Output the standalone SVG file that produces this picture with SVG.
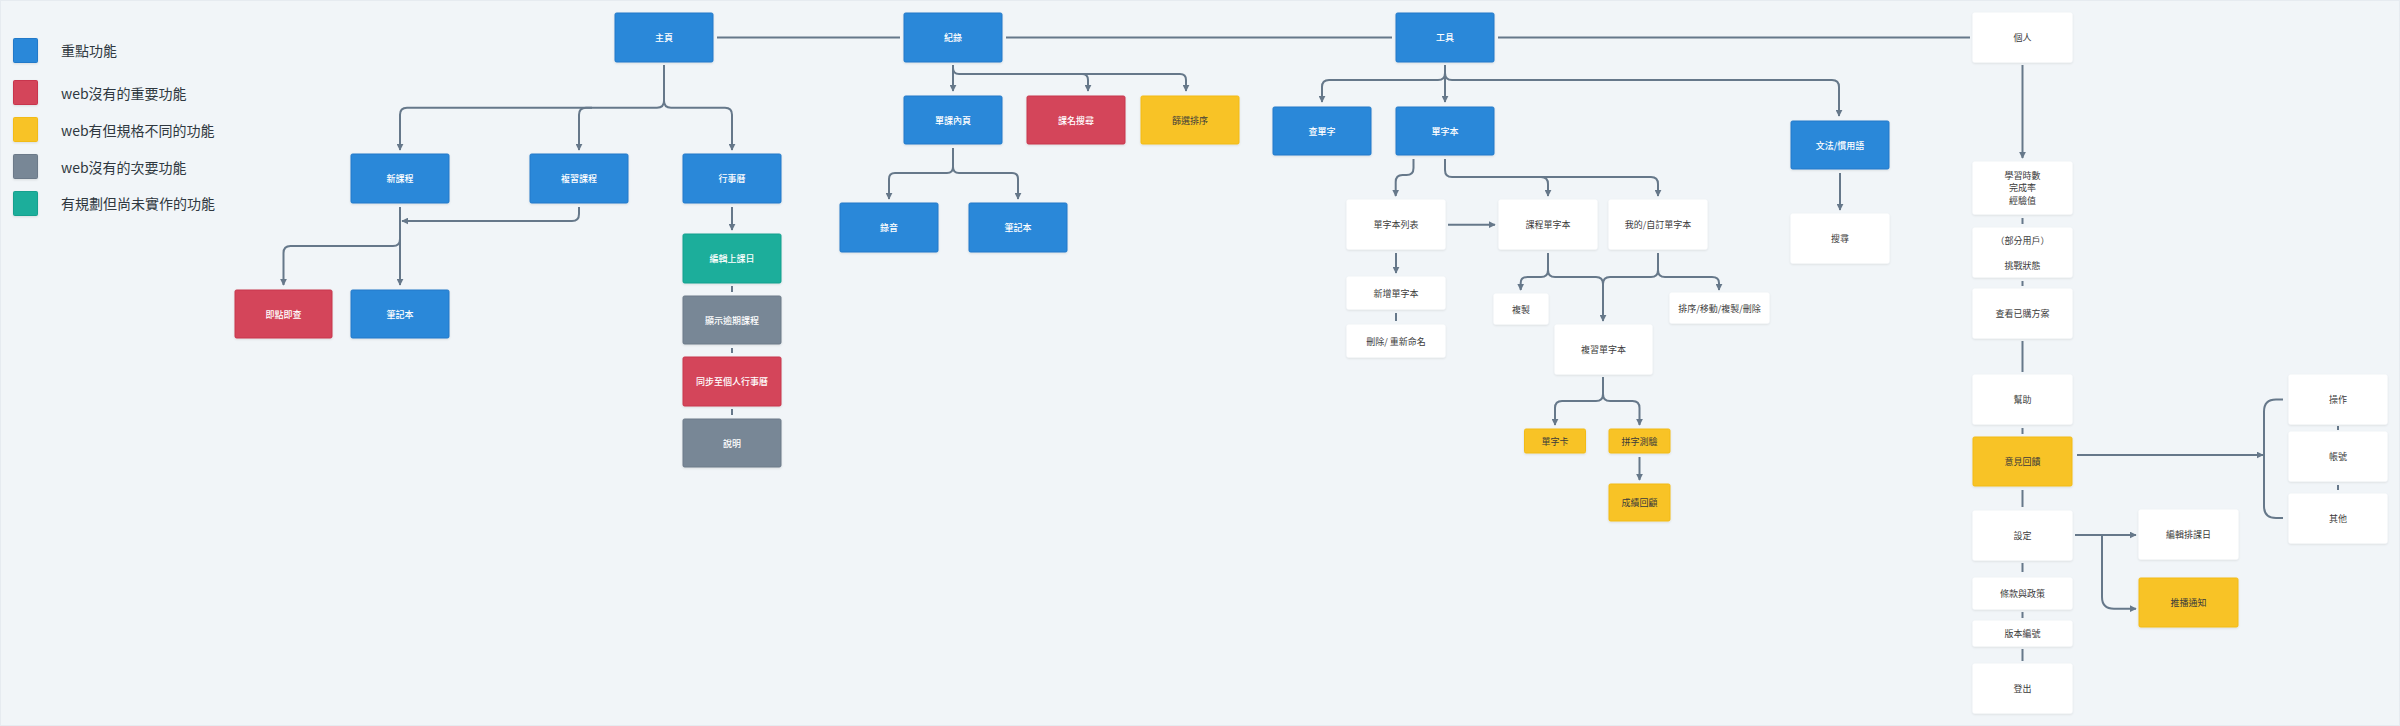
<svg xmlns="http://www.w3.org/2000/svg" width="2400" height="726" viewBox="0 0 2400 726">
<defs>
<style>
.n{stroke-width:1}
.blue{fill:#2b88d9;stroke:#2279c9}
.red{fill:#d4445a;stroke:#c8364d}
.yel{fill:#f8c325;stroke:#f2bb17}
.gray{fill:#788796;stroke:#6c7a89}
.teal{fill:#1aae9b;stroke:#15a08e}
.wht{fill:#ffffff;stroke:#ffffff}
text{font-family:"Noto Sans CJK TC","Noto Sans CJK SC",sans-serif;font-size:9px;text-anchor:middle;dominant-baseline:central}
.tw{fill:#ffffff;font-weight:500}
.td{fill:#3b3b3b}
.lg{font-size:14px;text-anchor:start;fill:#2f3840}
.c{fill:none;stroke:#66788a;stroke-width:2}
.a{marker-end:url(#arr)}
</style>
<marker id="arr" viewBox="0 0 10 10" refX="9" refY="5" markerWidth="7" markerHeight="7" markerUnits="userSpaceOnUse" orient="auto">
<path d="M0,0 L10,5 L0,10 z" fill="#66788a"/>
</marker>
<filter id="sh" x="-10%" y="-10%" width="120%" height="130%">
<feDropShadow dx="0" dy="1" stdDeviation="1" flood-color="#000000" flood-opacity="0.1"/>
</filter>
</defs>
<rect x="0" y="0" width="2400" height="726" fill="#f1f5f8"/>
<rect x="0.5" y="0.5" width="2399" height="725" fill="none" stroke="#e6ebf0"/>

<g id="legend">
<rect class="blue" x="13.5" y="38.5" width="24" height="24" rx="1" filter="url(#sh)"/>
<text class="lg" x="61" y="50">重點功能</text>
<rect class="red" x="13.5" y="80.5" width="24" height="24" rx="1" filter="url(#sh)"/>
<text class="lg" x="61" y="92.5">web沒有的重要功能</text>
<rect class="yel" x="13.5" y="117.5" width="24" height="24" rx="1" filter="url(#sh)"/>
<text class="lg" x="61" y="129.5">web有但規格不同的功能</text>
<rect class="gray" x="13.5" y="154.5" width="24" height="24" rx="1" filter="url(#sh)"/>
<text class="lg" x="61" y="166.5">web沒有的次要功能</text>
<rect class="teal" x="13.5" y="191.5" width="24" height="24" rx="1" filter="url(#sh)"/>
<text class="lg" x="61" y="203">有規劃但尚未實作的功能</text>
</g>

<g id="connectors">
<path class="c" d="M717,37.5 H900 M1006,37.5 H1392 M1498,37.5 H1970"/>
<path class="c a" d="M664,65 V101 Q664,107.7 657,107.7 H407 Q400,107.7 400,114.7 V150"/>
<path class="c a" d="M592,107.7 H586 Q579,107.7 579,114.7 V150"/>
<path class="c a" d="M664,101 Q664,107.7 671,107.7 H725 Q732,107.7 732,114.7 V150"/>
<path class="c a" d="M400,207 V285"/>
<path class="c a" d="M579,207 V214 Q579,221 572,221 H402"/>
<path class="c a" d="M400,239 Q400,246 393,246 H290.5 Q283.5,246 283.5,253 V285"/>
<path class="c a" d="M732,207 V230"/>
<path class="c" d="M732,286 V292 M732,348 V353 M732,409 V415"/>
<path class="c a" d="M953,65 V91"/>
<path class="c a" d="M953,68 Q953,74 959,74 H1082 Q1088,74 1088,80 V91"/>
<path class="c a" d="M1080,74 H1180 Q1186,74 1186,80 V91"/>
<path class="c a" d="M953,148 V167 Q953,173 947,173 H895 Q889,173 889,179 V199"/>
<path class="c a" d="M953,167 Q953,173 959,173 H1012 Q1018,173 1018,179 V199"/>
<path class="c a" d="M1445,65 V102"/>
<path class="c a" d="M1445,73 Q1445,80 1438,80 H1329 Q1322,80 1322,87 V102"/>
<path class="c a" d="M1445,73 Q1445,80 1452,80 H1832 Q1839,80 1839,87 V116"/>
<path class="c a" d="M1840,173 V210"/>
<path class="c a" d="M1413.5,159 V168 Q1413.5,175 1406.5,175 H1402.5 Q1395.7,175 1395.7,182 V196"/>
<path class="c a" d="M1445,159 V170 Q1445,177 1452,177 H1541 Q1548,177 1548,184 V196"/>
<path class="c a" d="M1540,177 H1651 Q1658,177 1658,184 V196"/>
<path class="c a" d="M1448,224.7 H1495"/>
<path class="c a" d="M1396,253 V273"/>
<path class="c" d="M1396,313 V321"/>
<path class="c a" d="M1548,253 V270 Q1548,277 1541,277 H1527.7 Q1520.7,277 1520.7,283 V290"/>
<path class="c a" d="M1548,270 Q1548,277 1555,277 H1596 Q1603,277 1603,284 V321"/>
<path class="c" d="M1658,253 V270 Q1658,277 1651,277 H1610 Q1603,277 1603,284"/>
<path class="c a" d="M1658,270 Q1658,277 1665,277 H1712 Q1719,277 1719,283 V290"/>
<path class="c a" d="M1603,377 V394 Q1603,401 1596,401 H1562 Q1555,401 1555,408 V425"/>
<path class="c a" d="M1603,394 Q1603,401 1610,401 H1632.5 Q1639.5,401 1639.5,408 V425"/>
<path class="c a" d="M1639.5,457 V480"/>
<path class="c a" d="M2022.5,65 V158"/>
<path class="c" d="M2022.5,218 V224 M2022.5,281 V286 M2022.5,341 V372 M2022.5,428 V434 M2022.5,490 V507 M2022.5,563 V572 M2022.5,612 V618 M2022.5,649 V661"/>
<path class="c a" d="M2077,455 H2263"/>
<path class="c" d="M2283,399.5 H2276 Q2264,399.5 2264,411.5 V506 Q2264,518 2276,518 H2283"/>
<path class="c" d="M2338,426 V430 M2338,485 V490"/>
<path class="c a" d="M2075,535 H2136"/>
<path class="c a" d="M2102,535 V597 Q2102,608.7 2114,608.7 H2136"/>
</g>

<g id="n-zhuye"><rect class="n blue" x="615" y="13" width="98" height="49" rx="1.5" filter="url(#sh)"/><text class="tw" x="664" y="37.5">主頁</text></g>
<g id="n-jilu"><rect class="n blue" x="904" y="13" width="98" height="49" rx="1.5" filter="url(#sh)"/><text class="tw" x="953" y="37.5">紀錄</text></g>
<g id="n-gongju"><rect class="n blue" x="1396" y="13" width="98" height="49" rx="1.5" filter="url(#sh)"/><text class="tw" x="1445" y="37.5">工具</text></g>
<g id="n-geren"><rect class="n wht" x="1973" y="13" width="99" height="49" rx="1.5" filter="url(#sh)"/><text class="td" x="2022.5" y="37.5">個人</text></g>

<g id="n-xinkecheng"><rect class="n blue" x="351" y="154" width="98" height="49" rx="1.5" filter="url(#sh)"/><text class="tw" x="400" y="178.5">新課程</text></g>
<g id="n-fuxikecheng"><rect class="n blue" x="530" y="154" width="98" height="49" rx="1.5" filter="url(#sh)"/><text class="tw" x="579" y="178.5">複習課程</text></g>
<g id="n-xingshili"><rect class="n blue" x="683" y="154" width="98" height="49" rx="1.5" filter="url(#sh)"/><text class="tw" x="732" y="178.5">行事曆</text></g>
<g id="n-jidianjicha"><rect class="n red" x="235" y="290" width="97" height="48" rx="1.5" filter="url(#sh)"/><text class="tw" x="283.5" y="314">即點即查</text></g>
<g id="n-bijiben1"><rect class="n blue" x="351" y="290" width="98" height="48" rx="1.5" filter="url(#sh)"/><text class="tw" x="400" y="314">筆記本</text></g>

<g id="n-bianji"><rect class="n teal" x="683" y="234" width="98" height="49" rx="1.5" filter="url(#sh)"/><text class="tw" x="732" y="258.5">編輯上課日</text></g>
<g id="n-xianshi"><rect class="n gray" x="683" y="296" width="98" height="48" rx="1.5" filter="url(#sh)"/><text class="tw" x="732" y="320">顯示逾期課程</text></g>
<g id="n-tongbu"><rect class="n red" x="683" y="357" width="98" height="49" rx="1.5" filter="url(#sh)"/><text class="tw" x="732" y="381.5">同步至個人行事曆</text></g>
<g id="n-shuoming"><rect class="n gray" x="683" y="419" width="98" height="48" rx="1.5" filter="url(#sh)"/><text class="tw" x="732" y="443">說明</text></g>

<g id="n-danke"><rect class="n blue" x="904" y="96" width="98" height="48" rx="1.5" filter="url(#sh)"/><text class="tw" x="953" y="120">單課內頁</text></g>
<g id="n-kemingsousuo"><rect class="n red" x="1027" y="96" width="98" height="48" rx="1.5" filter="url(#sh)"/><text class="tw" x="1076" y="120">課名搜尋</text></g>
<g id="n-shaixuan"><rect class="n yel" x="1141" y="96" width="98" height="48" rx="1.5" filter="url(#sh)"/><text class="td" x="1190" y="120">篩選排序</text></g>
<g id="n-luyin"><rect class="n blue" x="840" y="203" width="98" height="49" rx="1.5" filter="url(#sh)"/><text class="tw" x="889" y="227.5">錄音</text></g>
<g id="n-bijiben2"><rect class="n blue" x="969" y="203" width="98" height="49" rx="1.5" filter="url(#sh)"/><text class="tw" x="1018" y="227.5">筆記本</text></g>

<g id="n-chadanzi"><rect class="n blue" x="1273" y="107" width="98" height="48" rx="1.5" filter="url(#sh)"/><text class="tw" x="1322" y="131">查單字</text></g>
<g id="n-danziben"><rect class="n blue" x="1396" y="107" width="98" height="48" rx="1.5" filter="url(#sh)"/><text class="tw" x="1445" y="131">單字本</text></g>
<g id="n-wenfa"><rect class="n blue" x="1791" y="121" width="98" height="48" rx="1.5" filter="url(#sh)"/><text class="tw" x="1840" y="145">文法/慣用語</text></g>
<g id="n-sousuo"><rect class="n wht" x="1791" y="214" width="98" height="49" rx="1.5" filter="url(#sh)"/><text class="td" x="1840" y="238.5">搜尋</text></g>

<g id="n-liebiao"><rect class="n wht" x="1347" y="200" width="98" height="49" rx="1.5" filter="url(#sh)"/><text class="td" x="1396" y="224.5">單字本列表</text></g>
<g id="n-kechengdanziben"><rect class="n wht" x="1499" y="200" width="98" height="49" rx="1.5" filter="url(#sh)"/><text class="td" x="1548" y="224.5">課程單字本</text></g>
<g id="n-wode"><rect class="n wht" x="1609" y="200" width="98" height="49" rx="1.5" filter="url(#sh)"/><text class="td" x="1658" y="224.5">我的/自訂單字本</text></g>
<g id="n-xinzeng"><rect class="n wht" x="1347" y="277" width="98" height="32" rx="1.5" filter="url(#sh)"/><text class="td" x="1396" y="293">新增單字本</text></g>
<g id="n-shanchu"><rect class="n wht" x="1347" y="325" width="98" height="32" rx="1.5" filter="url(#sh)"/><text class="td" x="1396" y="341">刪除/ 重新命名</text></g>
<g id="n-fuzhi"><rect class="n wht" x="1494" y="294" width="54" height="30" rx="1.5" filter="url(#sh)"/><text class="td" x="1521" y="309">複製</text></g>
<g id="n-paixu"><rect class="n wht" x="1670" y="293" width="99" height="30" rx="1.5" filter="url(#sh)"/><text class="td" x="1719.5" y="308">排序/移動/複製/刪除</text></g>
<g id="n-fuxidanziben"><rect class="n wht" x="1555" y="325" width="97" height="49" rx="1.5" filter="url(#sh)"/><text class="td" x="1603.5" y="349.5">複習單字本</text></g>
<g id="n-danzika"><rect class="n yel" x="1524.5" y="429" width="61" height="24" rx="1.5" filter="url(#sh)"/><text class="td" x="1555" y="441">單字卡</text></g>
<g id="n-pinzi"><rect class="n yel" x="1609" y="429" width="61" height="24" rx="1.5" filter="url(#sh)"/><text class="td" x="1639.5" y="441">拼字測驗</text></g>
<g id="n-chengji"><rect class="n yel" x="1609" y="484" width="61" height="37" rx="1.5" filter="url(#sh)"/><text class="td" x="1639.5" y="502.5">成績回顧</text></g>

<g id="n-xuexi"><rect class="n wht" x="1973" y="162" width="99" height="52" rx="1.5" filter="url(#sh)"/><text class="td" x="2022.5" y="175.3">學習時數</text><text class="td" x="2022.5" y="187.7">完成率</text><text class="td" x="2022.5" y="200">經驗值</text></g>
<g id="n-bufen"><rect class="n wht" x="1973" y="228" width="99" height="49" rx="1.5" filter="url(#sh)"/><text class="td" x="2022.5" y="240.5">（部分用戶）</text><text class="td" x="2022.5" y="265">挑戰狀態</text></g>
<g id="n-chakan"><rect class="n wht" x="1973" y="289" width="99" height="49" rx="1.5" filter="url(#sh)"/><text class="td" x="2022.5" y="313.5">查看已購方案</text></g>
<g id="n-bangzhu"><rect class="n wht" x="1973" y="375" width="99" height="49" rx="1.5" filter="url(#sh)"/><text class="td" x="2022.5" y="399.5">幫助</text></g>
<g id="n-yijian"><rect class="n yel" x="1973" y="437" width="99" height="49" rx="1.5" filter="url(#sh)"/><text class="td" x="2022.5" y="461.5">意見回饋</text></g>
<g id="n-sheding"><rect class="n wht" x="1973" y="511" width="99" height="49" rx="1.5" filter="url(#sh)"/><text class="td" x="2022.5" y="535.5">設定</text></g>
<g id="n-tiaokuan"><rect class="n wht" x="1973" y="578" width="99" height="31" rx="1.5" filter="url(#sh)"/><text class="td" x="2022.5" y="593.5">條款與政策</text></g>
<g id="n-banben"><rect class="n wht" x="1973" y="621" width="99" height="25" rx="1.5" filter="url(#sh)"/><text class="td" x="2022.5" y="633.5">版本編號</text></g>
<g id="n-dengchu"><rect class="n wht" x="1973" y="664" width="99" height="49" rx="1.5" filter="url(#sh)"/><text class="td" x="2022.5" y="688.5">登出</text></g>
<g id="n-bianjipaike"><rect class="n wht" x="2139" y="510" width="99" height="49" rx="1.5" filter="url(#sh)"/><text class="td" x="2188.5" y="534.5">編輯排課日</text></g>
<g id="n-tuibo"><rect class="n yel" x="2139" y="578" width="99" height="49" rx="1.5" filter="url(#sh)"/><text class="td" x="2188.5" y="602.5">推播通知</text></g>
<g id="n-caozuo"><rect class="n wht" x="2289" y="375" width="98" height="49" rx="1.5" filter="url(#sh)"/><text class="td" x="2338" y="399.5">操作</text></g>
<g id="n-zhanghao"><rect class="n wht" x="2289" y="432" width="98" height="49" rx="1.5" filter="url(#sh)"/><text class="td" x="2338" y="456.5">帳號</text></g>
<g id="n-qita"><rect class="n wht" x="2289" y="494" width="98" height="49" rx="1.5" filter="url(#sh)"/><text class="td" x="2338" y="518.5">其他</text></g>
</svg>
